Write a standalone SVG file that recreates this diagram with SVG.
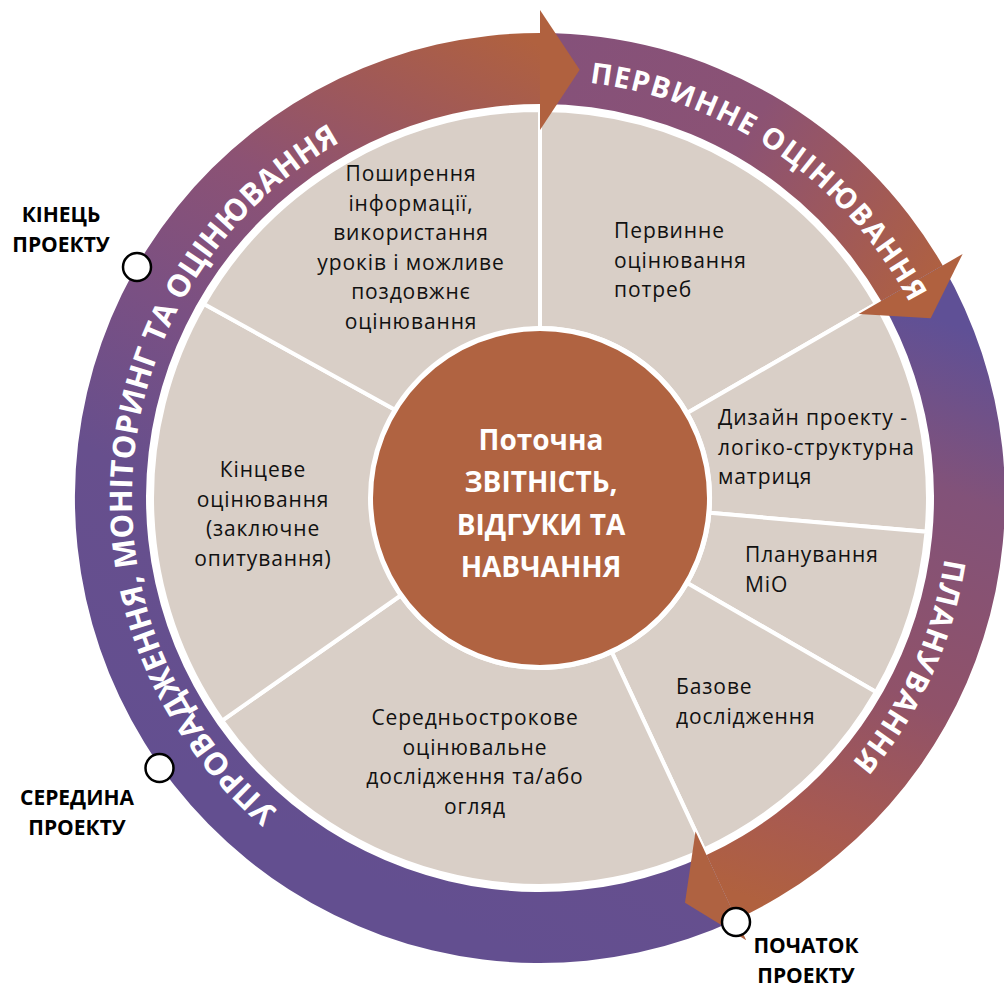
<svg xmlns="http://www.w3.org/2000/svg" width="1004" height="988" viewBox="0 0 1004 988">
  <defs>
    <style>
      .seg { fill: #D9CFC7; stroke: #FFFFFF; stroke-width: 4; stroke-linejoin: round; }
      .segtxt { font-family: 'Open Sans', 'Noto Sans', 'DejaVu Sans', sans-serif; font-size: 21px; letter-spacing: 0.9px; fill: #111111; }
      .mid { text-anchor: middle; }
      .ringtxt { font-family: 'Open Sans', 'Noto Sans', 'DejaVu Sans', sans-serif; font-weight: 700; fill: #FFFFFF; }
      .hubtxt { font-family: 'Open Sans', 'Noto Sans', 'DejaVu Sans', sans-serif; font-weight: 700; font-size: 28px; fill: #FFFFFF; text-anchor: middle; }
      .ms { fill: #FFFFFF; stroke: #000000; stroke-width: 2.5; }
      .mstxt { font-family: 'Open Sans', 'Noto Sans', 'DejaVu Sans', sans-serif; font-weight: 700; font-size: 21px; fill: #000000; text-anchor: middle; }
    </style>
    <linearGradient id="gImpl" gradientUnits="userSpaceOnUse" x1="150" y1="760" x2="540" y2="45">
      <stop offset="0" stop-color="#634F90"/>
      <stop offset="0.3" stop-color="#674F8D"/>
      <stop offset="0.5" stop-color="#7A5083"/>
      <stop offset="0.7" stop-color="#8C5274"/>
      <stop offset="0.86" stop-color="#A05957"/>
      <stop offset="1" stop-color="#B0613F"/>
    </linearGradient>
    <linearGradient id="gInit" gradientUnits="userSpaceOnUse" x1="560" y1="50" x2="940" y2="290">
      <stop offset="0" stop-color="#85517A"/>
      <stop offset="0.45" stop-color="#8B5274"/>
      <stop offset="0.75" stop-color="#A05958"/>
      <stop offset="1" stop-color="#B0613F"/>
    </linearGradient>
    <linearGradient id="gPlan" gradientUnits="userSpaceOnUse" x1="930" y1="316" x2="722" y2="888">
      <stop offset="0" stop-color="#5F5096"/>
      <stop offset="0.26" stop-color="#825279"/>
      <stop offset="0.6" stop-color="#905269"/>
      <stop offset="0.85" stop-color="#A85A50"/>
      <stop offset="1" stop-color="#B0613F"/>
    </linearGradient>
    <!-- baselines for the curved ring titles (clockwise arcs about 540,498) -->
    <path id="pImpl" d="M277.7,810.5 A408,408 0 0 1 400.5,114.6" fill="none"/>
    <path id="pInit" d="M589.5,82.9 A418,418 0 0 1 932.8,355" fill="none"/>
    <path id="pPlan" d="M944.5,558.5 A409,409 0 0 1 802.9,811.3" fill="none"/>
  </defs>

  <rect width="1004" height="988" fill="#FFFFFF"/>

  <!-- wheel segments -->
  <g id="seg-needs">
    <path class="seg" d="M540,328 L540,110 A388,388 0 0 1 876,304 L687.2,413 A170,170 0 0 0 540,328 Z"/>
    <text class="segtxt" y="238"><tspan x="614">Первинне</tspan><tspan x="614" dy="29.5">оцінювання</tspan><tspan x="614" dy="29.5">потреб</tspan></text>
  </g>
  <g id="seg-design">
    <path class="seg" d="M687.2,413 L876,304 A388,388 0 0 1 926.5,531.8 L709.4,512.8 A170,170 0 0 0 687.2,413 Z"/>
    <text class="segtxt" y="425"><tspan x="718">Дизайн проекту -</tspan><tspan x="718" dy="29.5">логіко-структурна</tspan><tspan x="718" dy="29.5">матриця</tspan></text>
  </g>
  <g id="seg-me-planning">
    <path class="seg" d="M709.4,512.8 L926.5,531.8 A388,388 0 0 1 876,692 L687.2,583 A170,170 0 0 0 709.4,512.8 Z"/>
    <text class="segtxt" y="562"><tspan x="745">Планування</tspan><tspan x="745" dy="29.5">МіО</tspan></text>
  </g>
  <g id="seg-baseline">
    <path class="seg" d="M687.2,583 L876,692 A388,388 0 0 1 704,849.6 L611.8,652.1 A170,170 0 0 0 687.2,583 Z"/>
    <text class="segtxt" y="694"><tspan x="676">Базове</tspan><tspan x="676" dy="29.5">дослідження</tspan></text>
  </g>
  <g id="seg-midterm">
    <path class="seg" d="M611.8,652.1 L704,849.6 A388,388 0 0 1 222.2,720.6 L400.7,595.5 A170,170 0 0 0 611.8,652.1 Z"/>
    <text class="segtxt mid" y="725"><tspan x="475">Середньострокове</tspan><tspan x="475" dy="29.5">оцінювальне</tspan><tspan x="475" dy="29.5">дослідження та/або</tspan><tspan x="475" dy="29.5">огляд</tspan></text>
  </g>
  <g id="seg-final">
    <path class="seg" d="M400.7,595.5 L222.2,720.6 A388,388 0 0 1 204,304 L400.8,413 A170,170 0 0 0 400.7,595.5 Z"/>
    <text class="segtxt mid" y="477"><tspan x="263">Кінцеве</tspan><tspan x="263" dy="29.5">оцінювання</tspan><tspan x="263" dy="29.5">(заключне</tspan><tspan x="263" dy="29.5">опитування)</tspan></text>
  </g>
  <g id="seg-dissemination">
    <path class="seg" d="M400.8,413 L204,304 A388,388 0 0 1 540,110 L540,328 A170,170 0 0 0 400.8,413 Z"/>
    <text class="segtxt mid" y="181"><tspan x="411">Поширення</tspan><tspan x="411" dy="29.5">інформації,</tspan><tspan x="411" dy="29.5">використання</tspan><tspan x="411" dy="29.5">уроків і можливе</tspan><tspan x="411" dy="29.5">поздовжнє</tspan><tspan x="411" dy="29.5">оцінювання</tspan></text>
  </g>

  <!-- hub -->
  <g id="hub">
    <circle cx="540" cy="498" r="169.5" fill="#B06341" stroke="#FFFFFF" stroke-width="5"/>
    <text class="hubtxt" y="450"><tspan x="541">Поточна</tspan><tspan x="541" dy="42">ЗВІТНІСТЬ,</tspan><tspan x="541" dy="42.5">ВІДГУКИ ТА</tspan><tspan x="541" dy="42">НАВЧАННЯ</tspan></text>
  </g>

  <!-- cycle arrows around the wheel -->
  <g id="cycle-arrows">
    <g id="arrow-bodies">
      <path id="body-implementation" fill="url(#gImpl)" d="M736.5,919.4 A465,465 0 1 1 540,33 L540,104 A394,394 0 1 0 706.5,855.1 Z"/>
      <path id="body-initial" fill="url(#gInit)" d="M540,33 A465,465 0 0 1 942.7,265.5 L881.2,301 A394,394 0 0 0 540,104 Z"/>
      <path id="body-planning" fill="url(#gPlan)" d="M942.7,265.5 A465,465 0 0 1 736.5,919.4 L706.5,855.1 A394,394 0 0 0 881.2,301 Z"/>
    </g>
    <g id="arrow-heads">
      <polygon fill="#B0613F" points="540,10 579.7,69.8 540,130"/>
      <polygon fill="#B0613F" points="962.6,254 930.7,318.3 858.7,314"/>
      <polygon fill="#AF6241" points="746.2,940.3 685,902.8 695.5,831.5"/>
    </g>
    <g id="arrow-titles">
      <text class="ringtxt" font-size="31"><textPath href="#pImpl" textLength="788">УПРОВАДЖЕННЯ, МОНІТОРИНГ ТА ОЦІНЮВАННЯ</textPath></text>
      <text class="ringtxt" font-size="29"><textPath href="#pInit" textLength="404">ПЕРВИННЕ ОЦІНЮВАННЯ</textPath></text>
      <text class="ringtxt" font-size="30"><textPath href="#pPlan" textLength="227">ПЛАНУВАННЯ</textPath></text>
    </g>
  </g>

  <!-- project milestones -->
  <g id="ms-end">
    <circle class="ms" cx="137" cy="267" r="14"/>
    <text class="mstxt" y="222"><tspan x="61">КІНЕЦЬ</tspan><tspan x="61" dy="30">ПРОЕКТУ</tspan></text>
  </g>
  <g id="ms-middle">
    <circle class="ms" cx="159.5" cy="768" r="14"/>
    <text class="mstxt" y="805"><tspan x="77">СЕРЕДИНА</tspan><tspan x="77" dy="30">ПРОЕКТУ</tspan></text>
  </g>
  <g id="ms-start">
    <circle class="ms" cx="736" cy="922" r="14"/>
    <text class="mstxt" y="953"><tspan x="806">ПОЧАТОК</tspan><tspan x="806" dy="30">ПРОЕКТУ</tspan></text>
  </g>
</svg>
